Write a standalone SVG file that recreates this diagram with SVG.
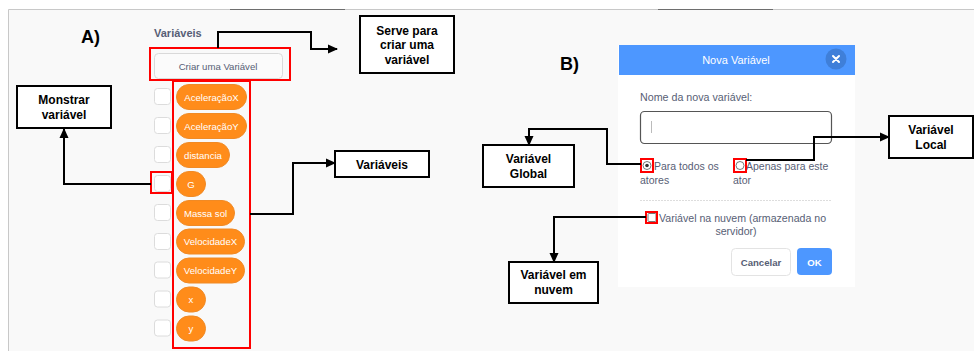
<svg xmlns="http://www.w3.org/2000/svg" width="974" height="351" viewBox="0 0 974 351">
  <defs>
    <marker id="arrow" viewBox="0 0 10 10" refX="9" refY="5" markerWidth="10" markerHeight="10" markerUnits="userSpaceOnUse" orient="auto">
      <path d="M0,0.5 L10,5 L0,9.5 Z" fill="#000"/>
    </marker>
    <style>
      .label { font-family: "Liberation Sans", Arial, sans-serif; font-size: 12px; font-weight: bold; fill: #000; text-anchor: middle; }
      .box { fill: #fff; stroke: #000; stroke-width: 2; }
      .wire { fill: none; stroke: #000; stroke-width: 2; marker-end: url(#arrow); }
      .hl { fill: none; stroke: #f00; stroke-width: 2; }
      .pill { fill: #ff8c1a; stroke: #f08a25; stroke-width: 1; }
      .pilltxt { font-family: "Liberation Sans", Arial, sans-serif; font-size: 9.6px; fill: #fff; text-anchor: middle; }
      .chk { fill: #fff; stroke: #dcdcdc; stroke-width: 1; }
      .ui { font-family: "Liberation Sans", Arial, sans-serif; fill: #575e75; }
      .head { font-family: "Liberation Sans", Arial, sans-serif; font-size: 18px; font-weight: bold; fill: #000; }
    </style>
  </defs>

  <!-- page background and frame -->
  <rect x="0" y="0" width="974" height="351" fill="#fff"/>
  <rect x="8" y="9" width="966" height="342" fill="#f9f9f9"/>
  <path d="M8.5,351 V9.5 H974" fill="none" stroke="#c8c8c8" stroke-width="1"/>
  <path d="M230,9.5 H345 M658,9.5 H773" stroke="#6e6e6e" stroke-width="1"/>

  <text class="head" x="81" y="43">A)</text>
  <text class="head" x="560" y="70">B)</text>

  <!-- palette: Variables category -->
  <g id="palette">
    <text class="ui" x="154" y="37" font-size="11" font-weight="bold">Variáveis</text>
    <rect x="154.5" y="53.5" width="128" height="25" rx="4" fill="#fbfbfb" stroke="#d9d9d9"/>
    <text class="ui" x="218" y="69.5" font-size="9.6" text-anchor="middle" fill="#6e7287">Criar uma Variável</text>
    <rect class="hl" x="150" y="48" width="140" height="32"/>

    <g id="var-rows">
      <rect class="chk" x="154.5" y="88.5" width="16" height="16" rx="3"/>
      <rect class="pill" x="176.5" y="84.5" width="70" height="25" rx="12.5"/>
      <text class="pilltxt" x="211.5" y="100.5">AceleraçãoX</text>

      <rect class="chk" x="154.5" y="117.5" width="16" height="16" rx="3"/>
      <rect class="pill" x="176.5" y="113.5" width="70" height="25" rx="12.5"/>
      <text class="pilltxt" x="211.5" y="129.5">AceleraçãoY</text>

      <rect class="chk" x="154.5" y="146.5" width="16" height="16" rx="3"/>
      <rect class="pill" x="176.5" y="142.5" width="53" height="25" rx="12.5"/>
      <text class="pilltxt" x="203" y="158.5">distancia</text>

      <rect class="chk" x="154.5" y="175.5" width="16" height="16" rx="3"/>
      <rect class="pill" x="176.5" y="171.5" width="29" height="25" rx="12.5"/>
      <text class="pilltxt" x="191" y="187.5">G</text>

      <rect class="chk" x="154.5" y="204.5" width="16" height="16" rx="3"/>
      <rect class="pill" x="176.5" y="200.5" width="58" height="25" rx="12.5"/>
      <text class="pilltxt" x="205.5" y="216.5">Massa sol</text>

      <rect class="chk" x="154.5" y="233.5" width="16" height="16" rx="3"/>
      <rect class="pill" x="176.5" y="229" width="68" height="25" rx="12.5"/>
      <text class="pilltxt" x="210.5" y="245">VelocidadeX</text>

      <rect class="chk" x="154.5" y="262" width="16" height="16" rx="3"/>
      <rect class="pill" x="176.5" y="258" width="68" height="25" rx="12.5"/>
      <text class="pilltxt" x="210.5" y="274">VelocidadeY</text>

      <rect class="chk" x="154.5" y="291" width="16" height="16" rx="3"/>
      <rect class="pill" x="176.5" y="287" width="29" height="25" rx="12.5"/>
      <text class="pilltxt" x="191" y="303">x</text>

      <rect class="chk" x="154.5" y="320" width="16" height="16" rx="3"/>
      <rect class="pill" x="176.5" y="316" width="29" height="25" rx="12.5"/>
      <text class="pilltxt" x="191" y="332">y</text>
    </g>
    <rect class="hl" x="173" y="81" width="77" height="267"/>
    <rect class="hl" x="151" y="172" width="21" height="21"/>
  </g>

  <!-- annotation boxes, part A -->
  <g id="node-serve">
    <rect class="box" x="360" y="16" width="94" height="57"/>
    <text class="label" x="407" y="34.5">Serve para</text>
    <text class="label" x="407" y="49">criar uma</text>
    <text class="label" x="407" y="63.5">variável</text>
  </g>
  <g id="node-monstrar">
    <rect class="box" x="17" y="86" width="94" height="42"/>
    <text class="label" x="64" y="104">Monstrar</text>
    <text class="label" x="64" y="119">variável</text>
  </g>
  <g id="node-variaveis">
    <rect class="box" x="335" y="151" width="94" height="26"/>
    <text class="label" x="382" y="169">Variáveis</text>
  </g>

  <!-- dialog: new variable -->
  <g id="dialog">
    <rect x="618" y="45" width="237" height="242" fill="#fff"/>
    <rect x="619" y="45" width="236" height="30" fill="#4d97ff"/>
    <text x="736" y="63.5" font-family="'Liberation Sans', Arial, sans-serif" font-size="11" fill="#fff" text-anchor="middle">Nova Variável</text>
    <circle cx="836" cy="59" r="10.5" fill="#3f7fd9"/>
    <path d="M833,56 L839,62 M839,56 L833,62" stroke="#fff" stroke-width="2" stroke-linecap="round"/>

    <text class="ui" x="640" y="101" font-size="10.7">Nome da nova variável:</text>
    <rect x="640.5" y="111.5" width="191" height="32" rx="4" fill="#fff" stroke="#555" stroke-width="1.2"/>
    <path d="M651.5,121 V133" stroke="#bbb" stroke-width="1"/>

    <circle cx="647" cy="165.5" r="4" fill="#fff" stroke="#777" stroke-width="1"/>
    <circle cx="647" cy="165.5" r="1.8" fill="#333"/>
    <text class="ui" x="654" y="169.5" font-size="10.5">Para todos os</text>
    <text class="ui" x="640" y="184" font-size="10.5">atores</text>

    <circle cx="740" cy="165.5" r="4" fill="#fff" stroke="#777" stroke-width="1"/>
    <text class="ui" x="746" y="169.5" font-size="10.5">Apenas para este</text>
    <text class="ui" x="733" y="184" font-size="10.5">ator</text>

    <path d="M640,200.5 H832" stroke="#ddd" stroke-width="1" stroke-dasharray="2,1"/>

    <rect x="648" y="213.5" width="8" height="8" rx="1" fill="#fff" stroke="#777" stroke-width="1"/>
    <text class="ui" x="659" y="221.5" font-size="10.6">Variável na nuvem (armazenada no</text>
    <text class="ui" x="736" y="235" font-size="10.6" text-anchor="middle">servidor)</text>

    <rect x="731.5" y="248.5" width="59" height="27" rx="4" fill="#fff" stroke="#e3e3e3"/>
    <text class="ui" x="761" y="265.5" font-size="9.6" font-weight="bold" text-anchor="middle">Cancelar</text>
    <rect x="797" y="248" width="35" height="27" rx="4" fill="#4d97ff"/>
    <text x="814.5" y="265.5" font-family="'Liberation Sans', Arial, sans-serif" font-size="9.6" font-weight="bold" fill="#fff" text-anchor="middle">OK</text>

    <rect class="hl" x="641" y="159" width="12" height="13"/>
    <rect class="hl" x="734" y="159" width="12" height="13"/>
    <rect class="hl" x="646" y="212" width="11" height="11"/>
  </g>

  <!-- annotation boxes, part B -->
  <g id="node-global">
    <rect class="box" x="483" y="145" width="91" height="42"/>
    <text class="label" x="528.5" y="163">Variável</text>
    <text class="label" x="528.5" y="177.5">Global</text>
  </g>
  <g id="node-local">
    <rect class="box" x="889" y="116" width="84" height="42"/>
    <text class="label" x="931" y="134">Variável</text>
    <text class="label" x="931" y="148.5">Local</text>
  </g>
  <g id="node-nuvem">
    <rect class="box" x="509" y="262" width="89" height="41"/>
    <text class="label" x="553.5" y="279">Variável em</text>
    <text class="label" x="553.5" y="293.5">nuvem</text>
  </g>

  <!-- connectors -->
  <g id="connectors">
    <path class="wire" d="M218,48 V32 H311 V49 H337"/>
    <path class="wire" d="M250,214 H293 V163 H335"/>
    <path class="wire" d="M151,184 H64 V129"/>
    <path class="wire" d="M641,164 H607 V129 H529 V145"/>
    <path class="wire" d="M746,160 H814 V137 H889"/>
    <path class="wire" d="M646,217 H554 V262"/>
  </g>
</svg>
